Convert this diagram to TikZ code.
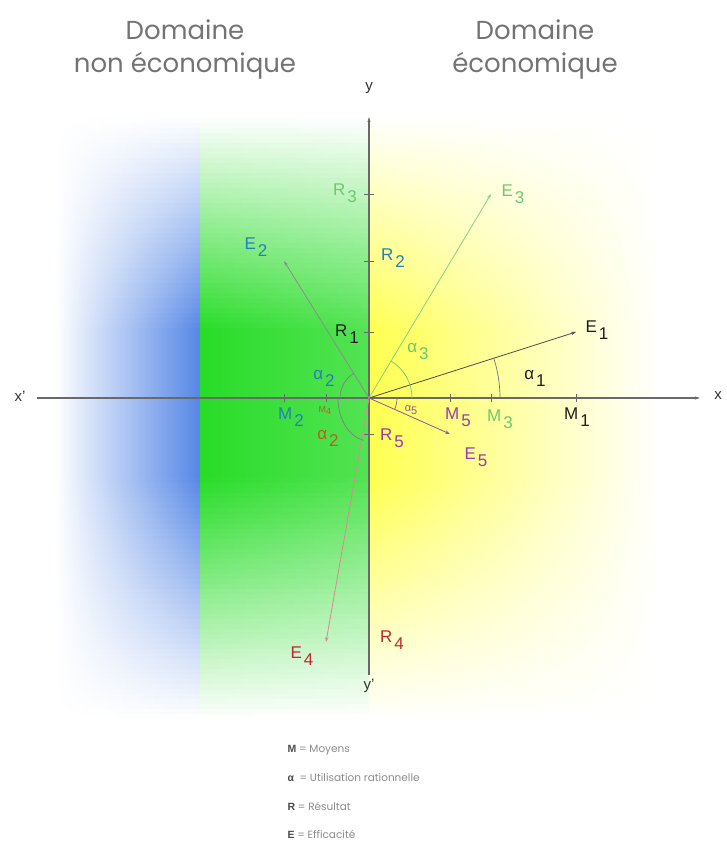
\documentclass[tikz,border=0pt]{standalone}
\usepackage{fontspec}
\setmainfont{Liberation Sans}
\newfontfamily\titlefont{Poppins}
\usetikzlibrary{arrows.meta}

\definecolor{axisgray}{RGB}{105,105,105}
\definecolor{bandblue}{RGB}{85,135,230}
\definecolor{bandgreen}{RGB}{40,220,40}
\definecolor{bandyellow}{RGB}{255,255,80}
\definecolor{cone}{RGB}{30,30,30}
\definecolor{ctwo}{RGB}{35,130,180}
\definecolor{cthree}{RGB}{110,200,110}
\definecolor{cfour}{RGB}{190,40,50}
\definecolor{cbrown}{RGB}{175,100,30}
\definecolor{cfive}{RGB}{155,60,175}

% label with a lowered index
\newcommand{\vlab}[2]{#1\kern2pt\raisebox{-7pt}{#2}}

\begin{document}
\begin{tikzpicture}[x=1pt, y=1pt,
    lab/.style={inner sep=0pt, font=\fontsize{17}{17}\selectfont},
    small lab/.style={inner sep=0pt, font=\fontsize{9}{9}\selectfont},
    axis lab/.style={inner sep=0pt, font=\fontsize{15}{15}\selectfont, text=black!80},
    axisline/.style={draw=axisgray, line width=1.1pt},
    vec/.style={line width=0.8pt, -{Stealth[length=5pt, width=3.5pt]}},
    tick/.style={draw=axisgray, line width=0.8pt},
    angle arc/.style={line width=0.7pt}]

    \useasboundingbox[fill=white] (-369,-444) rectangle (357,398);

    % coloured domains, drawn strip by strip
    \foreach \k in {0,...,123} {
        \pgfmathsetmacro{\ylo}{-330+5*\k}
        \pgfmathsetmacro{\yc}{\ylo+2.5}
        \pgfmathtruncatemacro{\f}{100*max(0,min(1,min((283-\yc)/215,(\yc+322)/240)))}
        \pgfmathtruncatemacro{\g}{0.8*\f}
        \shade[left color=white, right color=bandblue!\f!white] (-314,\ylo) rectangle (-169,\ylo+5.6);
        \shade[left color=bandgreen!\f!white, right color=bandgreen!\g!white] (-169,\ylo) rectangle (0,\ylo+5.6);
        \shade[left color=bandyellow!\f!white, right color=white] (0,\ylo) rectangle (290,\ylo+5.6);
    }

    \node[font=\titlefont\fontsize{26}{33}\selectfont, text=black!55, align=center] (tnon) at (-184,349) {Domaine\\non économique};
    \node[font=\titlefont\fontsize{26}{33}\selectfont, text=black!55, align=center] (teco) at (166,349) {Domaine\\économique};

    % axes
    \coordinate (O) at (0,0);
    \coordinate (xl) at (-332,0);
    \coordinate (xr) at (331,0);
    \coordinate (yb) at (0,-277);
    \coordinate (yt) at (0,281);
    \draw[axisline, -{Stealth[length=5pt, width=3pt]}] (xl) -- (xr);
    \draw[axisline, -{Stealth[length=5pt, width=3pt]}] (yb) -- (yt);
    \node[axis lab] (xlab) at (-349,2) {x'};
    \node[axis lab] (xrlab) at (349,2) {x};
    \node[axis lab] (ylab) at (0,310) {y};
    \node[axis lab] (yblab) at (0,-288) {y'};

    % means on x, results on y
    \coordinate (m1) at (207,0);
    \coordinate (m2) at (-85,0);
    \coordinate (m3) at (122,0);
    \coordinate (m4) at (-43,0);
    \coordinate (m5) at (81,0);
    \coordinate (r1) at (0,66);
    \coordinate (r2) at (0,137);
    \coordinate (r3) at (0,204);
    \coordinate (r4) at (0,-244);
    \coordinate (r5) at (0,-36);
    \foreach \i in {1,...,5} {
        \coordinate (e\i) at (m\i |- r\i);
        \draw[tick] ([yshift=-4pt]m\i) -- ([yshift=4pt]m\i);
    }
    \foreach \i in {1,2,3,5} {
        \draw[tick] ([xshift=-5pt]r\i) -- ([xshift=5pt]r\i);
    }

    % efficiency vectors
    \draw[vec, draw=black!70] (O) -- (e1);
    \draw[vec, draw=black!45] (O) -- (e2);
    \draw[vec, draw=cthree!85] (O) -- (e3);
    \draw[vec, draw=cfour!55] (O) -- (e4);
    \draw[vec, draw=cfive!60!gray] (O) -- (e5);

    % angles
    \draw[angle arc, black!55] (131,0) arc[start angle=0, end angle=17.7, radius=131pt];
    \draw[angle arc, cthree] (43,0) arc[start angle=0, end angle=59.1, radius=43pt];
    \draw[angle arc, cfive!50!gray] (28,0) arc[start angle=0, end angle=-24, radius=28pt];
    \draw[angle arc, black!50] (-29,0) arc[start angle=180, end angle=121.8, radius=29pt];
    \draw[angle arc, black!50] (-31,0) arc[start angle=180, end angle=260, x radius=31pt, y radius=43pt];

    % labels
    \node[lab, text=cone] (lE1) at (228,68) {\vlab{E}{1}};
    \node[lab, text=ctwo] (lE2) at (-113,151) {\vlab{E}{2}};
    \node[lab, text=cthree] (lE3) at (144,204) {\vlab{E}{3}};
    \node[lab, text=cfour] (lE4) at (-67,-258) {\vlab{E}{4}};
    \node[lab, text=cfive] (lE5) at (107,-59) {\vlab{E}{5}};

    \node[lab, text=cone] (lR1) at (-22,64) {\vlab{R}{1}};
    \node[lab, text=ctwo] (lR2) at (24,140) {\vlab{R}{2}};
    \node[lab, text=cthree] (lR3) at (-24,205) {\vlab{R}{3}};
    \node[lab, text=cfour] (lR4) at (23,-242) {\vlab{R}{4}};
    \node[lab, text=cfive] (lR5) at (23,-40) {\vlab{R}{5}};

    \node[lab, text=cone] (lM1) at (208,-19) {\vlab{M}{1}};
    \node[lab, text=ctwo] (lM2) at (-78,-19) {\vlab{M}{2}};
    \node[lab, text=cthree] (lM3) at (131,-21) {\vlab{M}{3}};
    \node[small lab, text=cbrown] (lM4) at (-44,-12) {M\raisebox{-2pt}{4}};
    \node[lab, text=cfive] (lM5) at (89,-19) {\vlab{M}{5}};

    \node[lab, text=cone] (la1) at (166,20) {\vlab{α}{1}};
    \node[lab, text=ctwo] (la2) at (-45,20) {\vlab{α}{2}};
    \node[lab, text=cbrown] (la2b) at (-41,-40) {\vlab{α}{2}};
    \node[lab, text=cthree] (la3) at (49,46) {\vlab{α}{3}};
    \node[small lab, font=\fontsize{11}{11}\selectfont, text=cfive!60!gray] (la5) at (42,-12) {α\raisebox{-3pt}{5}};

    % legend
    \node[anchor=west, font=\titlefont\fontsize{10.5}{10.5}\selectfont, text=black!45] (legM) at (-85,-352) {{\rmfamily\bfseries\color{black!70}M} = Moyens};
    \node[anchor=west, font=\titlefont\fontsize{10.5}{10.5}\selectfont, text=black!45] (lega) at (-85,-380) {{\rmfamily\bfseries\color{black!70}α} \ = Utilisation rationnelle};
    \node[anchor=west, font=\titlefont\fontsize{10.5}{10.5}\selectfont, text=black!45] (legR) at (-85,-408) {{\rmfamily\bfseries\color{black!70}R} = Résultat};
    \node[anchor=west, font=\titlefont\fontsize{10.5}{10.5}\selectfont, text=black!45] (legE) at (-85,-436) {{\rmfamily\bfseries\color{black!70}E} = Efficacité};
\end{tikzpicture}
\end{document}
